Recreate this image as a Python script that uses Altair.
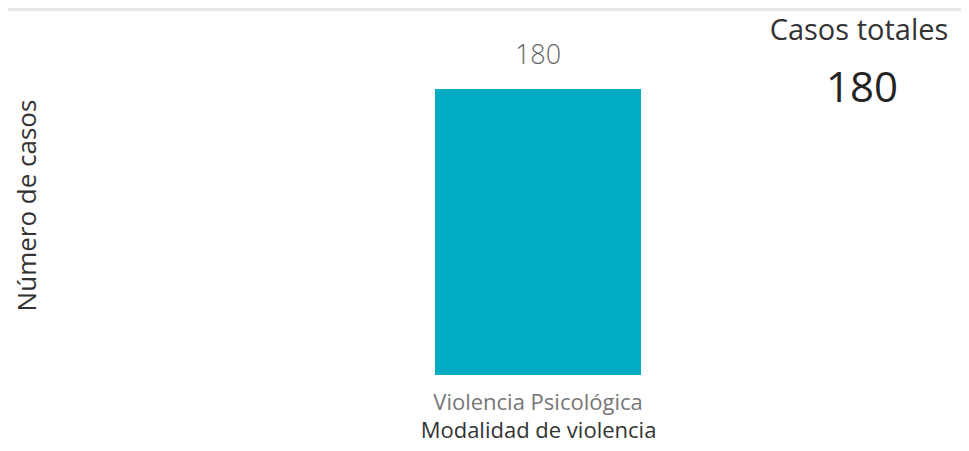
import altair as alt
import pandas as pd

categories = ["Violencia Psicológica"]
casos = [180]
total_label = "Casos totales"
total_value = sum(casos)

df = pd.DataFrame({"modalidad": categories, "casos": casos})
FONT = "Open Sans"

base = alt.Chart(df)

bars = base.mark_bar(size=206, color="#00ACC4").encode(
    x=alt.X("modalidad:N", title="Modalidad de violencia",
            axis=alt.Axis(labelAngle=0, labelFontSize=22, labelColor="#777777",
                          labelFont=FONT, ticks=False, domain=False, labelPadding=17,
                          labelLimit=0,
                          titleFontSize=22, titleColor="#333333", titleFont=FONT,
                          titleFontWeight=500, titleY=62, titleBaseline="alphabetic")),
    y=alt.Y("casos:Q", title="Número de casos",
            scale=alt.Scale(domain=[0, 214], nice=False),
            axis=alt.Axis(labels=False, ticks=False, domain=False, grid=False,
                          titleFontSize=26, titleColor="#333333", titleFont=FONT,
                          titleFontWeight=500, titleX=-80, titleBaseline="alphabetic")),
)

labels = base.mark_text(baseline="alphabetic", dy=-25, fontSize=27, color="#666666",
                        font=FONT, fontWeight=300).encode(
    x="modalidad:N", y="casos:Q", text="casos:Q")

card = pd.DataFrame({"t": [total_label], "v": [str(total_value)]})
card_title = alt.Chart(card).mark_text(fontSize=29, color="#333333", font=FONT,
                                        baseline="alphabetic", align="center",
                                        fontWeight=500).encode(
    x=alt.value(744), y=alt.value(5), text="t:N")
card_value = alt.Chart(card).mark_text(fontSize=42, color="#252423", font=FONT,
                                        baseline="alphabetic", align="center",
                                        fontWeight=500).encode(
    x=alt.value(747), y=alt.value(67), text="v:N")

band = alt.Chart(card).mark_rect(color="#E6E6E6").encode(
    x=alt.value(-107), x2=alt.value(846), y=alt.value(-27), y2=alt.value(-24))

chart = alt.layer(band, bars, labels, card_title, card_value).properties(
    width=846, height=340,
    autosize=alt.AutoSizeParams(type="none"),
    padding={"left": 107, "top": 27, "right": 0, "bottom": 68},
).configure_view(stroke=None)

chart.save("out.html", embed_options={"renderer": "svg", "actions": False})
